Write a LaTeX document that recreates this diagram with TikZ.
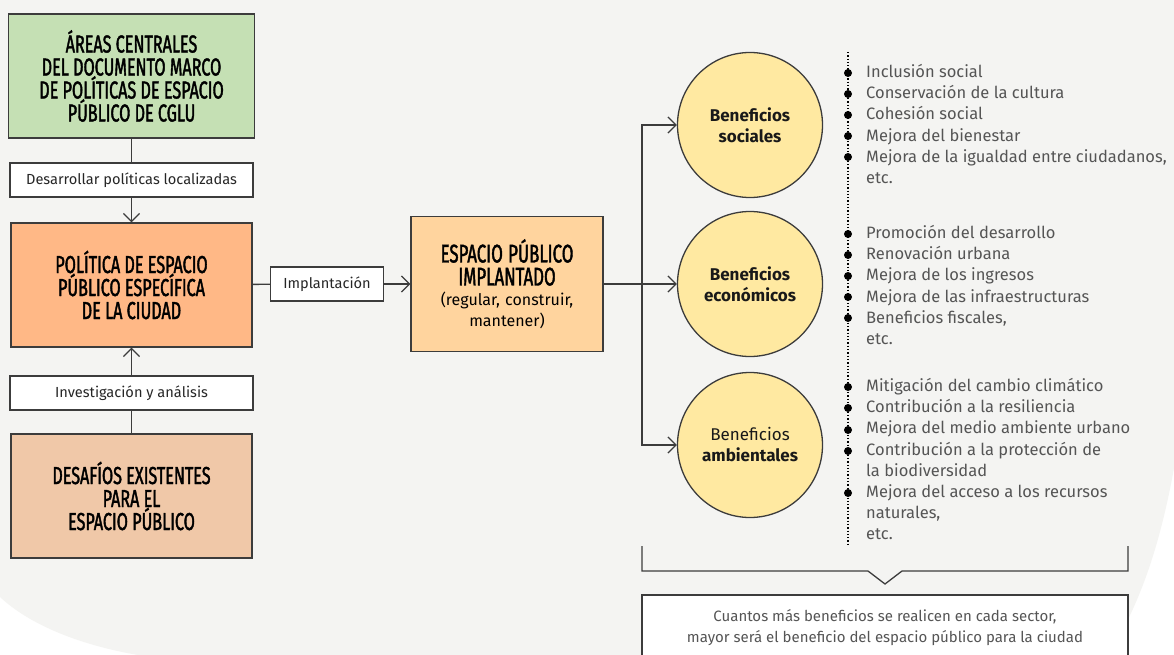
\documentclass[tikz,border=0pt]{standalone}
\usepackage{fontspec}
\setmainfont{Fira Sans}
\newfontfamily\headfont{Fira Sans}[FakeStretch=0.66,FakeBold=1.6]
\usetikzlibrary{arrows.meta}

\definecolor{bggray}{HTML}{F4F4F2}
\definecolor{linegray}{HTML}{3C3C3C}
\definecolor{greenfill}{HTML}{C5E0B4}
\definecolor{orangefill}{HTML}{FFB886}
\definecolor{tanfill}{HTML}{F0C8A8}
\definecolor{peachfill}{HTML}{FFD49E}
\definecolor{benefitfill}{HTML}{FFE9A1}
\definecolor{listgray}{HTML}{555555}

\begin{document}
\begin{tikzpicture}[x=1pt,y=-1pt,
  >={Straight Barb[length=8pt,width=16pt]},
  line/.style={draw=linegray,line width=1.3pt},
  headbox/.style={draw=linegray,line width=1.3pt,minimum width=241pt,minimum height=124pt,
    align=center,text=black,font=\headfont\fontsize{24.5}{23}\selectfont},
  tagbox/.style={draw=linegray,fill=white,line width=1.3pt,minimum width=243pt,
    minimum height=34pt,text=black!85,font=\fontsize{14.6}{16}\selectfont},
  benefit/.style={circle,draw=linegray,fill=benefitfill,line width=1.3pt,minimum size=145pt,
    inner sep=0pt,align=center,text=black!90,font=\fontsize{17}{21}\selectfont},
  listtext/.style={align=left,anchor=north west,inner sep=0pt,text=listgray,
    font=\fontsize{16.5}{21.2}\selectfont},
]
\useasboundingbox (0,0) rectangle (1174,655);
\clip (0,0) rectangle (1174,655);

% background
\fill[white] (0,0) rectangle (1174,655);
\fill[bggray] (0,0) -- (1174,0) -- (1174,468) .. controls (1160,545) and (1140,605) .. (1108,655)
  -- (138,655) .. controls (80,645) and (30,625) .. (0,597) -- cycle;

% left column
\node[headbox,fill=greenfill,minimum width=246pt] (areas) at (131.5,76)
  {ÁREAS CENTRALES\\DEL DOCUMENTO MARCO\\DE POLÍTICAS DE ESPACIO\\PÚBLICO DE CGLU};
\node[tagbox] (develop) at (131.5,180) {Desarrollar políticas localizadas};
\node[headbox,fill=orangefill] (policy) at (131.5,285)
  {POLÍTICA DE ESPACIO\\PÚBLICO ESPECÍFICA\\DE LA CIUDAD};
\node[tagbox] (research) at (131.5,393) {Investigación y análisis};
\node[headbox,fill=tanfill] (challenges) at (131.5,496)
  {DESAFÍOS EXISTENTES\\PARA EL\\ESPACIO PÚBLICO};

% middle
\node[tagbox,minimum width=113pt] (implement) at (327,284) {Implantación};
\node[headbox,fill=peachfill,minimum width=192pt,minimum height=135pt,text width=180pt,
  font=\fontsize{16}{20.5}\selectfont] (public) at (507,284)
  {{\headfont\fontsize{25.5}{23}\selectfont ESPACIO PÚBLICO\\IMPLANTADO\par}
   (regular, construir,\\mantener)};

% benefits
\node[benefit] (social) at (750,125) {\textbf{Beneficios}\\\textbf{sociales}};
\node[benefit] (economic) at (750,284) {\textbf{Beneficios}\\\textbf{económicos}};
\node[benefit] (environ) at (750,445) {Beneficios\\\textbf{ambientales}};

\draw[line] (areas.south) -- (develop.north);
\draw[line,->] (develop.south) -- (policy.north);
\draw[line] (challenges.north) -- (research.south);
\draw[line,->] (research.north) -- (policy.south);
\draw[line] (policy) -- (implement);
\draw[line,->] (implement) -- (public);

\coordinate (split) at (642,284);
\draw[line] (public) -- (split);
\draw[line,->] (split) -- (economic);
\draw[line,->] (split) |- (social);
\draw[line,->] (split) |- (environ);

% lists
\draw[dotted,line width=1.3pt] (848,52) -- (848,545);
\foreach \y in {73,94,115,136,157,234,255,276,297,318,387,408,430,451,493}
  \fill[black] (848,\y) circle (4pt);

\node[listtext] (socitems) at (866,64) {Inclusión social\\Conservación de la cultura\\Cohesión social\\
  Mejora del bienestar\\Mejora de la igualdad entre ciudadanos,\\etc.};
\node[listtext] (ecoitems) at (866,225) {Promoción del desarrollo\\Renovación urbana\\
  Mejora de los ingresos\\Mejora de las infraestructuras\\Beneficios fiscales,\\etc.};
\node[listtext] (envitems) at (866,378) {Mitigación del cambio climático\\Contribución a la resiliencia\\
  Mejora del medio ambiente urbano\\Contribución a la protección de\\la biodiversidad\\
  Mejora del acceso a los recursos\\naturales,\\etc.};

% bracket and summary
\draw[line] (642,546) -- (642,571) -- (868,571) -- (885,584) -- (902,571) -- (1128,571) -- (1128,546);
\node[draw=linegray,fill=white,line width=1.3pt,minimum width=486pt,minimum height=66pt,
  align=center,text=listgray,font=\fontsize{15}{21}\selectfont] (summary) at (885,628)
  {Cuantos más beneficios se realicen en cada sector,\\mayor será el beneficio del espacio público para la ciudad};

\end{tikzpicture}
\end{document}
